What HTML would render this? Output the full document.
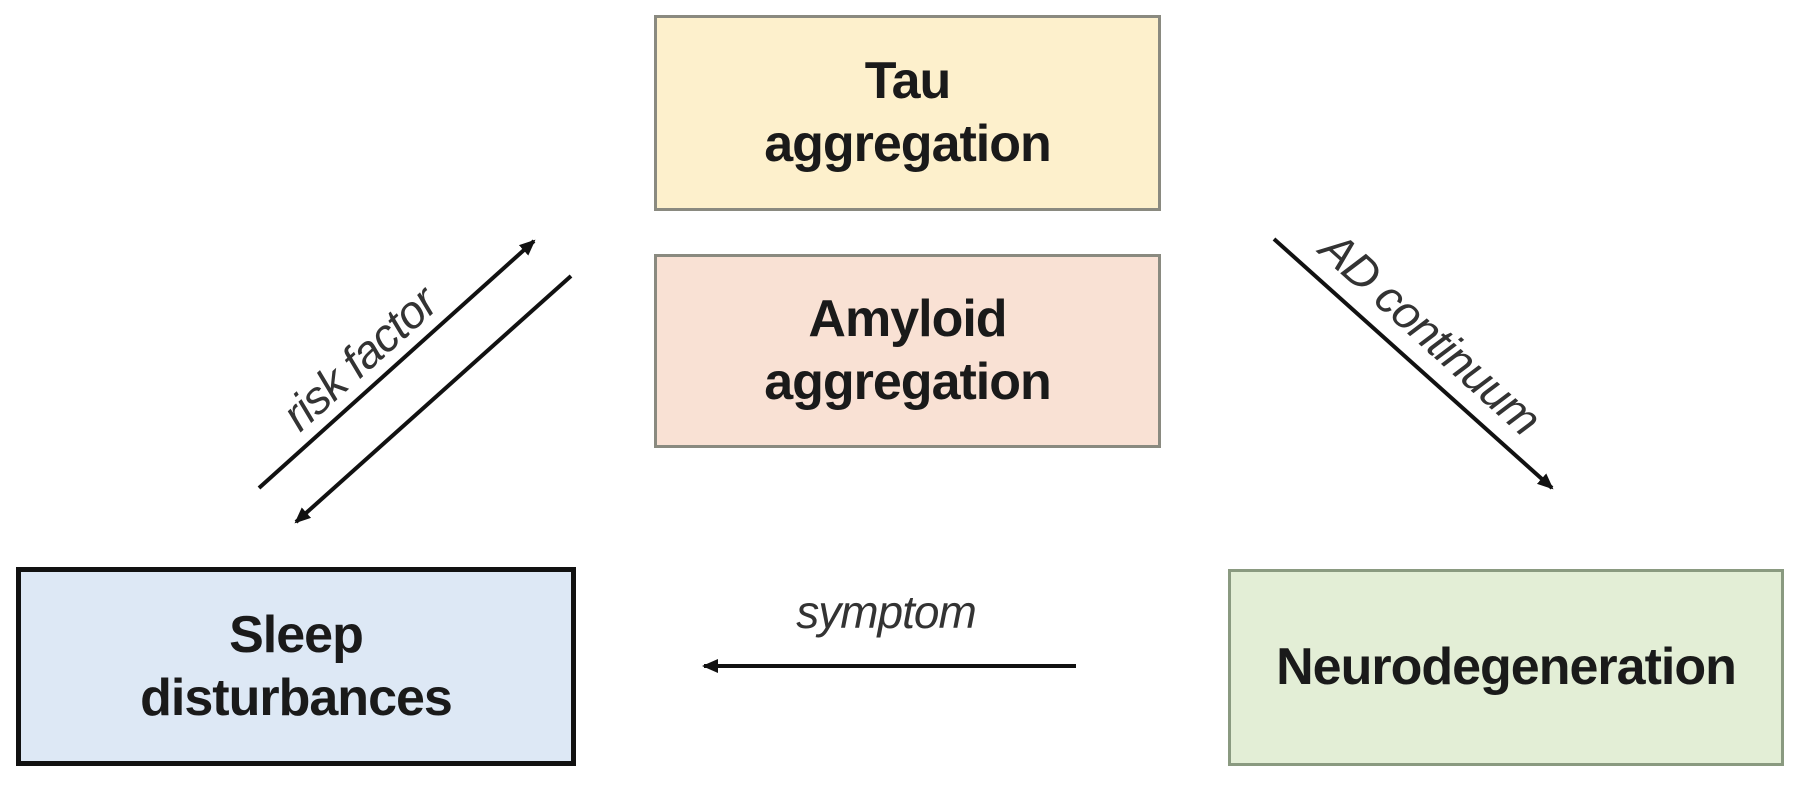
<!DOCTYPE html>
<html><head><meta charset="utf-8"><style>
html,body{margin:0;padding:0;background:#fff;}
body{width:1800px;height:790px;position:relative;overflow:hidden;font-family:"Liberation Sans",Arial,sans-serif;}
.box{position:absolute;box-sizing:border-box;display:flex;align-items:center;justify-content:center;text-align:center;font-weight:bold;font-size:52px;line-height:63px;color:#1a1a1a;letter-spacing:-1px;}
</style></head><body>
<div class="box" style="left:654px;top:15px;width:507px;height:196px;background:#fdf0cc;border:3px solid #8a8a80;">Tau<br>aggregation</div>
<div class="box" style="left:654px;top:254px;width:507px;height:194px;background:#f9e1d4;border:3px solid #8a8a80;">Amyloid<br>aggregation</div>
<div class="box" style="left:16px;top:567px;width:560px;height:199px;background:#dde8f5;border:5px solid #111;">Sleep<br>disturbances</div>
<div class="box" style="left:1228px;top:569px;width:556px;height:197px;background:#e3eed6;border:3px solid #8a9a80;">Neurodegeneration</div>
<svg width="1800" height="790" style="position:absolute;left:0;top:0">
<defs><marker id="a" markerWidth="16" markerHeight="14" refX="14" refY="7" orient="auto" markerUnits="userSpaceOnUse"><path d="M0,0 L16,7 L0,14 z" fill="#111"/></marker></defs>
<g stroke="#111" stroke-width="4" fill="none">
<line x1="259" y1="488" x2="534" y2="241" marker-end="url(#a)"/>
<line x1="571" y1="276" x2="296" y2="522" marker-end="url(#a)"/>
<line x1="1274" y1="239" x2="1552" y2="488" marker-end="url(#a)"/>
<line x1="1076" y1="666" x2="704" y2="666" marker-end="url(#a)"/>
</g>
<g font-family="Liberation Sans, Arial, sans-serif" font-style="italic" font-size="46" fill="#333" text-anchor="middle" letter-spacing="-1">
<text transform="translate(370,370) rotate(-42)">risk factor</text>
<text transform="translate(1420,345) rotate(42)">AD continuum</text>
<text x="886" y="628">symptom</text>
</g>
</svg>
</body></html>
